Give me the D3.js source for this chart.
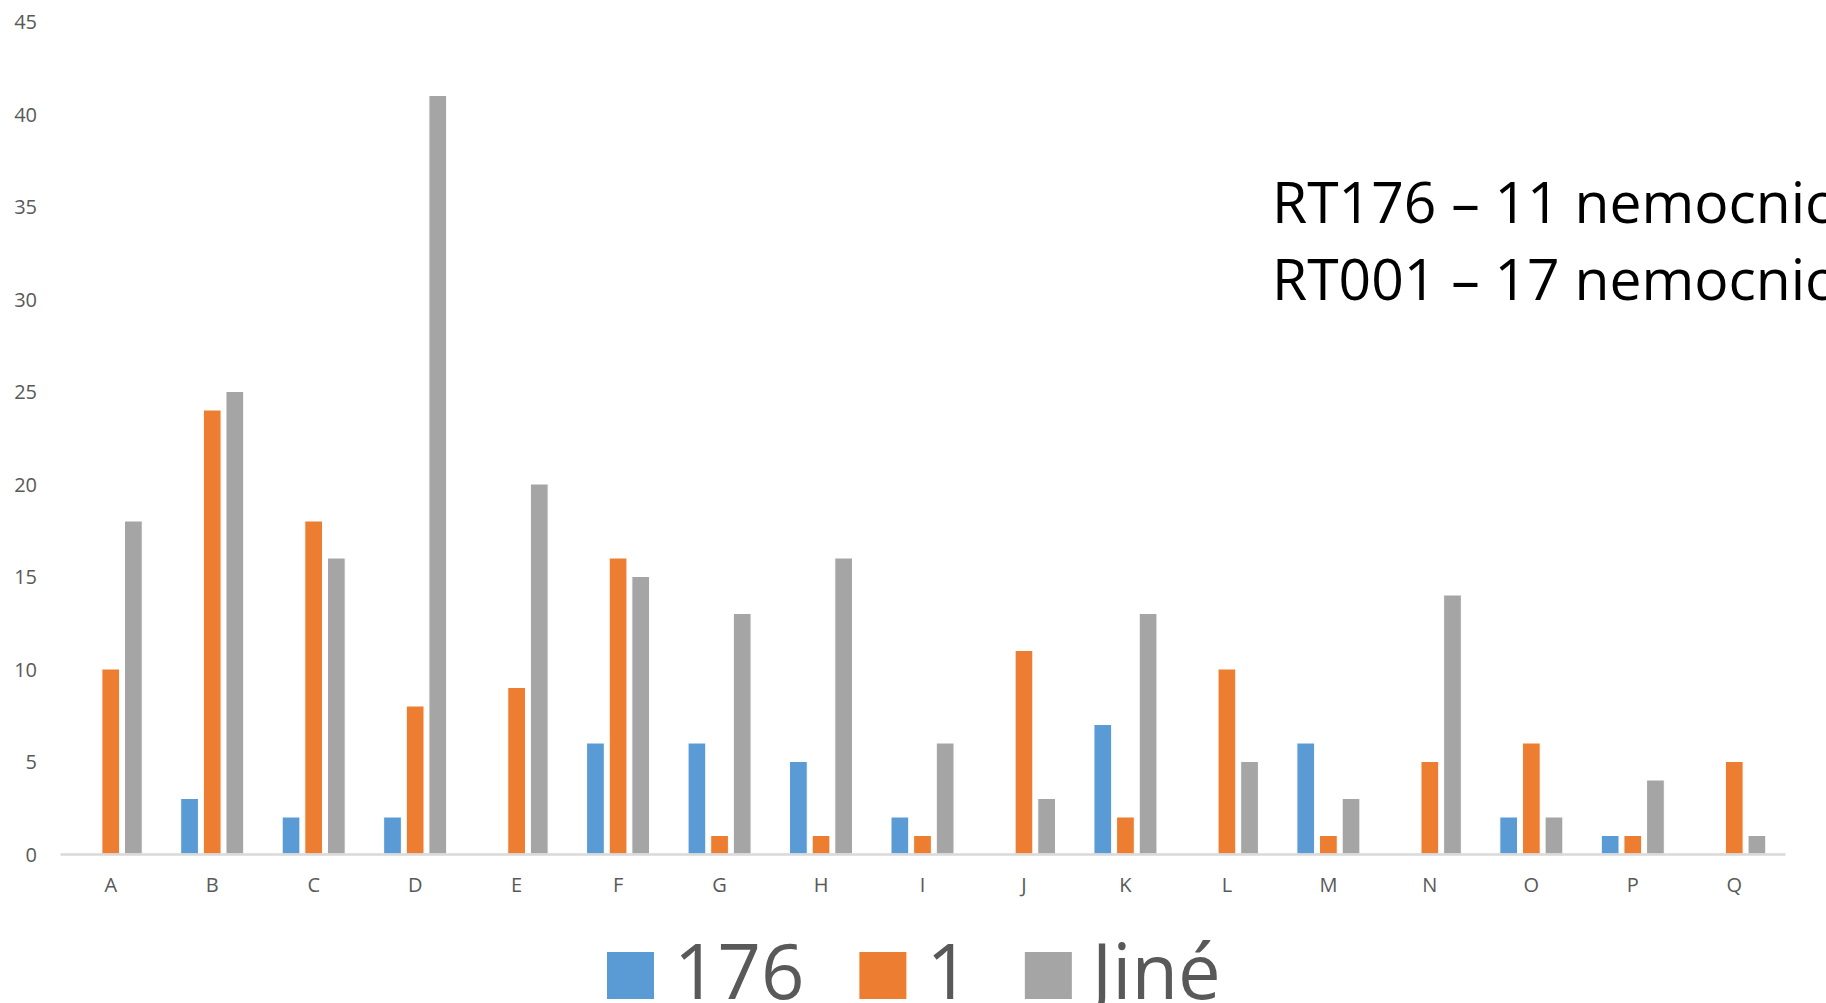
<!DOCTYPE html>
<html>
<head>
<meta charset="utf-8">
<script src="https://cdn.jsdelivr.net/npm/d3@7"></script>
<style>
  html, body { margin: 0; padding: 0; background: #fff; overflow: hidden; }
  svg { display: block; font-family: "Open Sans", "Noto Sans", sans-serif; }
</style>
</head>
<body>
<svg id="chart" width="1826" height="1003"></svg>
<script>
// Hospitals (A–Q) and counts per ribotype group
const categories = ["A","B","C","D","E","F","G","H","I","J","K","L","M","N","O","P","Q"];
const seriesNames = ["176", "1", "Jiné"];
const values176  = [0, 3, 2, 2, 0, 6, 6, 5, 2, 0, 7, 0, 6, 0, 2, 1, 0];
const values1    = [10, 24, 18, 8, 9, 16, 1, 1, 1, 11, 2, 10, 1, 5, 6, 1, 5];
const valuesJine = [18, 25, 16, 41, 20, 15, 13, 16, 6, 3, 13, 5, 3, 14, 2, 4, 1];
const yTicks = [0, 5, 10, 15, 20, 25, 30, 35, 40, 45];
const colors = ["#5B9BD5", "#ED7D31", "#A5A5A5"];
const noteLines = ["RT176 – 11 nemocnic", "RT001 – 17 nemocnic"];

const seriesValues = [values176, values1, valuesJine];
const rows = categories.map((c, i) => ({
  cat: c,
  vals: seriesNames.map((s, k) => ({ series: s, k, value: seriesValues[k][i] }))
}));

const svg = d3.select("#chart");
const plot = { left: 60, right: 1785, top: 21.5, bottom: 854 };

const x0 = d3.scaleBand().domain(categories).range([plot.left, plot.right]).padding(0);
const groupW = 63;
const x1 = d3.scaleBand().domain(seriesNames).range([-groupW / 2, groupW / 2]).paddingInner(0.217).paddingOuter(0);
const y = d3.scaleLinear().domain([0, 45]).range([plot.bottom, plot.top]);

// y tick labels (no axis line, no gridlines)
const yAxis = d3.axisLeft(y).tickValues(yTicks).tickSize(0).tickPadding(0);
const gy = svg.append("g").attr("transform", "translate(37,0)").call(yAxis);
gy.select(".domain").remove();
gy.selectAll("text")
  .attr("font-family", "Open Sans, Noto Sans, sans-serif")
  .attr("font-size", 20)
  .attr("fill", "#595959")
  .attr("dy", "0.36em");

// bars
const groups = svg.append("g").selectAll("g")
  .data(rows).join("g")
  .attr("transform", d => `translate(${x0(d.cat) + x0.bandwidth() / 2},0)`);

groups.selectAll("rect")
  .data(d => d.vals.filter(v => v.value > 0))
  .join("rect")
  .attr("x", d => x1(d.series))
  .attr("width", x1.bandwidth())
  .attr("y", d => y(d.value))
  .attr("height", d => y(0) - y(d.value))
  .attr("fill", d => colors[d.k])
  .attr("stroke", "#ffffff")
  .attr("stroke-width", 1);

// category axis
const xAxis = d3.axisBottom(x0).tickSize(0).tickPadding(0);
const gx = svg.append("g").attr("transform", `translate(0,${plot.bottom})`).call(xAxis);
gx.select(".domain").attr("stroke", "#d9d9d9").attr("stroke-width", 2.5);
gx.selectAll("text")
  .attr("font-family", "Open Sans, Noto Sans, sans-serif")
  .attr("font-size", 20)
  .attr("fill", "#595959")
  .attr("dy", null)
  .attr("y", 38);

// annotation
svg.append("g").selectAll("text")
  .data(noteLines).join("text")
  .attr("x", 1272)
  .attr("y", (d, i) => 223 + i * 77)
  .attr("font-size", 57)
  .attr("fill", "#000")
  .text(d => d);

// legend
const legend = svg.append("g");
let lx = 607;
seriesNames.forEach((name, k) => {
  legend.append("rect")
    .attr("x", lx).attr("y", 952)
    .attr("width", 47).attr("height", 47)
    .attr("fill", colors[k]);
  const t = legend.append("text")
    .attr("x", lx + 47 + 20)
    .attr("y", 999)
    .attr("font-size", 76)
    .attr("fill", "#595959")
    .text(name);
  lx = lx + 47 + 20 + t.node().getComputedTextLength() + 55;
});
</script>
</body>
</html>
